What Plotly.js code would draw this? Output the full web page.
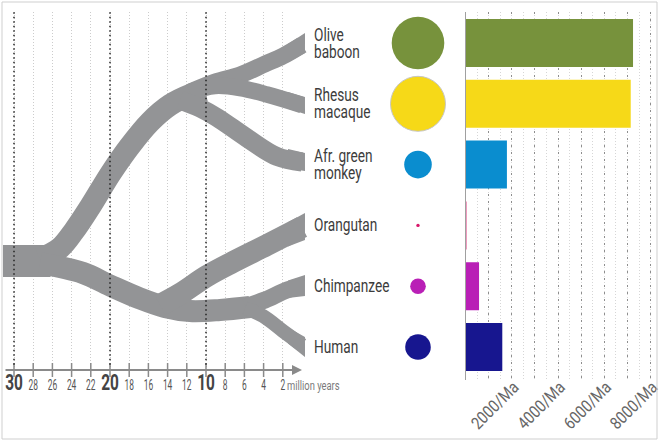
<!DOCTYPE html>
<html><head><meta charset="utf-8">
<script src="https://cdn.plot.ly/plotly-3.0.1.min.js"></script>
<style>html,body{margin:0;padding:0;background:#fff}</style>
</head><body><div id="chart" style="width:660px;height:441px"></div>
<script>
// ---------- data ----------
const labels = ['Olive<br>baboon','Rhesus<br>macaque','Afr. green<br>monkey','Orangutan','Chimpanzee','Human'];
const rows = [0,1,2,3,4,5];
const barValues = [7240, 7140, 1790, 40, 585, 1590];
const circleValues = [7150, 7810, 1970, 30, 630, 1690];
const colors = ['#77923c','#f6d918','#0a8dcf','#d8176a','#b91fb6','#17168f'];
const treeTicks = [30,28,26,24,22,20,18,16,14,12,10,8,6,4,2];
const majorTicks = [30,20,10];
const barTicks = [1000,2000,3000,4000,5000,6000,7000,8000];
const barTickLabels = ['','2000/Ma','','4000/Ma','','6000/Ma','','8000/Ma'];

// tree branches: time before present (Ma) and row position of the branch centre
const rootT = [32.5, 26.2],                                  rootY = [3.586, 3.586];
const owmT = [27.29, 25.21, 23.75, 22.08, 19.90, 17.92, 15.83, 13.75, 11.67, 10.1];
const owmY = [3.553, 3.372, 3.092, 2.697, 2.138, 1.694, 1.299, 1.020, 0.855, 0.78];
const baboonT = [11.667, 9.0625, 6.458, 3.854, 1.979, 0.0],  baboonY = [0.806, 0.641, 0.526, 0.345, 0.214, 0.033];
const rhesusT = [11.667, 9.0625, 6.458, 3.646, 0.0],         rhesusY = [0.806, 0.707, 0.740, 0.847, 1.020];
const agmT = [12.708, 10.625, 8.854, 5.729, 2.604, 0.0],     agmY = [0.9375, 1.069, 1.225, 1.5625, 1.867, 1.957];
const apeT = [27.29, 22.81, 20.0, 16.875, 14.27, 11.67, 8.54, 5.42];
const apeY = [3.618, 3.783, 3.988, 4.202, 4.342, 4.408, 4.391, 4.342];
const orangT = [14.79, 12.71, 9.90, 7.19, 3.65, 0.0],        orangY = [4.309, 4.128, 3.832, 3.602, 3.322, 3.026];
const chimpT = [5.9375, 3.854, 1.5625, 0.0],                 chimpY = [4.342, 4.227, 4.063, 3.997];
const humanT = [5.9375, 4.0625, 1.979, 0.0],                 humanY = [4.359, 4.490, 4.737, 4.967];
// flared ends: edges at 1.46 Ma and at the tip (-0.31 Ma), row units
const flareT = [1.458, -0.31];
const flareInnerTop    = [0.016, 0.806, 1.743, 2.947, 3.908, 4.679];
const flareInnerBottom = [0.3125, 1.082, 2.064, 3.345, 4.194, 4.942];
const tipTop    = [-0.164, 0.888, 1.809, 2.796, 3.816, 4.836];
const tipBottom = [ 0.164, 1.168, 2.105, 3.240, 4.161, 5.164];

// ---------- layout helpers ----------
const W = 660, H = 441;
const FONT = 'Roboto, "Noto Sans", sans-serif';
const tAt = px => 30 - (px - 14) / 9.6;      // tree x scale
const uAt = py => (py - 43) / 60.8;          // row scale
const dom = (a, b) => [(H - b) / H, (H - a) / H];

const branchColor = '#939496';
const branches = [
  [rootT, rootY, 32], [owmT, owmY, 22], [baboonT, baboonY, 17], [rhesusT, rhesusY, 16.5], [agmT, agmY, 19],
  [apeT, apeY, 22], [orangT, orangY, 22], [chimpT, chimpY, 17], [humanT, humanY, 14]
];
const traces = branches.map(([t, y, w]) => ({
  type: 'scatter', mode: 'lines', x: t, y: y, xaxis: 'x', yaxis: 'y2',
  line: {color: branchColor, width: w, shape: 'spline', smoothing: 1}, hoverinfo: 'skip'
}));
// flared tips
tipTop.forEach((a, i) => {
  traces.push({type: 'scatter', mode: 'lines', xaxis: 'x', yaxis: 'y2', fill: 'toself', fillcolor: branchColor,
    x: [flareT[0], flareT[1], flareT[1], flareT[0]],
    y: [flareInnerTop[i], tipTop[i], tipBottom[i], flareInnerBottom[i]],
    line: {width: 0, color: branchColor}, hoverinfo: 'skip'});
});

// tick crosses on the time arrow
traces.push({
  type: 'scatter', mode: 'markers', x: treeTicks, y: treeTicks.map(() => uAt(370)),
  xaxis: 'x', yaxis: 'y2', cliponaxis: false,
  marker: {symbol: 'line-ns', size: 10, line: {color: '#8a8a8a', width: 1.5}}, hoverinfo: 'skip'
});

// circles
const rMax = 26.3;
const sizeref = circleValues[0] / 2 / (rMax * rMax);
traces.push({
  type: 'scatter', mode: 'markers', x: rows.map(() => 0), y: rows, xaxis: 'x2', yaxis: 'y',
  marker: {color: colors, opacity: 1, size: circleValues, sizemode: 'area', sizeref: sizeref, sizemin: 1.5,
           line: {color: ['rgba(0,0,0,0)', '#c6c6c6', 'rgba(0,0,0,0)', 'rgba(0,0,0,0)', 'rgba(0,0,0,0)', 'rgba(0,0,0,0)'], width: 1}},
  hoverinfo: 'skip'
});

// bars
traces.push({
  type: 'bar', orientation: 'h', x: barValues, y: rows, xaxis: 'x3', yaxis: 'y',
  marker: {color: colors, line: {width: 0}}, width: 0.79, hoverinfo: 'skip'
});

const annotations = labels.map((txt, i) => ({
  xref: 'paper', yref: 'y', x: 312 / W, y: rows[i], xanchor: 'left', yanchor: 'middle', align: 'left',
  text: txt, showarrow: false, font: {family: FONT, size: 17.5, color: '#3c3c3c'}
}));
// arrow of the time axis
annotations.push({
  xref: 'x', yref: 'y2', axref: 'x', ayref: 'y2', x: tAt(302), y: uAt(370), ax: tAt(4), ay: uAt(370),
  text: '', showarrow: true, arrowhead: 2, arrowsize: 1, arrowwidth: 2, arrowcolor: '#8a8a8a'
});
annotations.push({
  xref: 'x', yref: 'y2', x: 2, y: uAt(370), xshift: 2, yshift: -16, xanchor: 'left', yanchor: 'middle', align: 'left',
  text: 'million years', showarrow: false, font: {family: FONT, size: 12, color: '#7a7a7a'}
});

const shapes = majorTicks.map(t => ({
  type: 'line', xref: 'x', yref: 'y2 domain', x0: t, x1: t, y0: 0.015, y1: 1,
  line: {color: '#222', width: 1.5, dash: '1.5px,3px'}
}));
shapes.push({type: 'rect', xref: 'paper', yref: 'paper', x0: 2 / W, x1: 657 / W, y0: 2 / H, y1: 439 / H,
  line: {color: '#cfcfcf', width: 1}});

const layout = {
  width: W, height: H, margin: {l: 0, r: 0, t: 0, b: 0, pad: 0},
  paper_bgcolor: '#fff', plot_bgcolor: 'rgba(0,0,0,0)', showlegend: false,
  font: {family: FONT, color: '#555'},
  xaxis: {
    domain: [3 / W, 310 / W], range: [tAt(3), tAt(310)], anchor: 'y2',
    tickmode: 'array', tickvals: treeTicks, tickangle: 0, ticklabelstandoff: 5,
    ticktext: treeTicks.map(t => majorTicks.includes(t) ? '<b><span style="font-size:22px;color:#444">' + t + '</span></b>' : String(t)),
    tickfont: {family: FONT, size: 14, color: '#555'}, ticks: '',
    showgrid: true, gridcolor: '#cccccc', gridwidth: 1, griddash: '1px,2px',
    showline: false, zeroline: false, fixedrange: true
  },
  yaxis2: {domain: dom(12, 370), range: [uAt(370), uAt(12)], anchor: 'x', visible: false, fixedrange: true},
  xaxis2: {domain: [390 / W, 446 / W], range: [-1, 1], anchor: 'y', visible: false, fixedrange: true},
  yaxis: {domain: dom(12, 380), range: [uAt(380), uAt(12)], anchor: 'x3', showline: true, linecolor: '#a0a0a0',
          linewidth: 1, showticklabels: false, showgrid: false, zeroline: false, ticks: '', fixedrange: true},
  xaxis3: {
    domain: [465.5 / W, 657 / W], range: [0, (657 - 465.5) / 23.14 * 1000], anchor: 'y',
    tickmode: 'array', tickvals: barTicks, ticktext: barTickLabels, tickangle: -45,
    ticklabelstandoff: -7, ticklabelshift: 2, ticklabeloverflow: 'allow',
    tickfont: {family: FONT, size: 17, color: '#666'}, ticks: '',
    showgrid: true, gridcolor: '#8e8e8e', gridwidth: 1, griddash: '2px,5px',
    minor: {dtick: 500, showgrid: true, gridcolor: '#d6d6d6', gridwidth: 1, griddash: '1px,2px'},
    showline: false, zeroline: false, fixedrange: true
  },
  annotations: annotations, shapes: shapes
};

// narrow the letters like the condensed face of the original
function squeeze(el, f) {
  const L = el.getComputedTextLength();
  if (L > 0) { el.setAttribute('textLength', (L * f).toFixed(2)); el.setAttribute('lengthAdjust', 'spacingAndGlyphs'); }
}
Plotly.newPlot('chart', traces, layout, {displayModeBar: false, staticPlot: true}).then(() => {
  document.querySelectorAll('.annotation-text').forEach(el => {
    const lines = el.querySelectorAll('tspan.line');
    const n = lines.length;
    if (n > 1) {
      lines.forEach((ln, k) => {
        ln.setAttribute('dy', (k * 0.95 + (n - 1) * (1.3 - 0.95) / 2).toFixed(3) + 'em');
        squeeze(ln, 0.78);
      });
    } else {
      squeeze(el, 0.78);
    }
  });
  document.querySelectorAll('.xtick text').forEach(el => squeeze(el, el.querySelector('tspan[style]') ? 0.7 : 0.6));
  document.querySelectorAll('.x3tick text').forEach(el => squeeze(el, 0.85));
});
</script></body></html>
